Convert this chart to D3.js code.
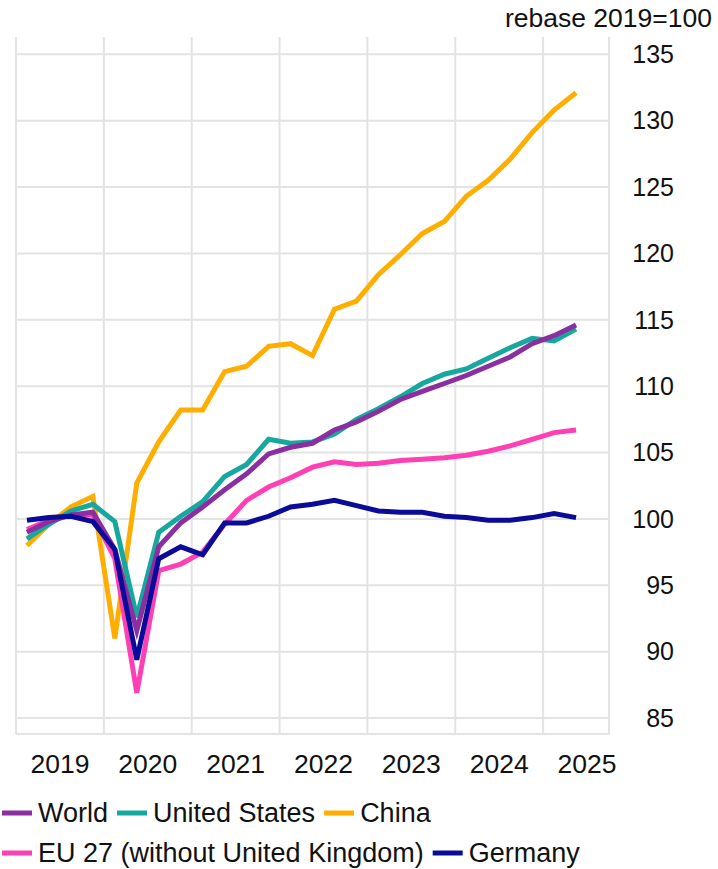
<!DOCTYPE html>
<html>
<head>
<meta charset="utf-8">
<script src="https://cdn.jsdelivr.net/npm/d3@7"></script>
<style>
  body { margin: 0; background: #fff; }
  svg { display: block; font-family: 'Liberation Sans', Arial, sans-serif; }
</style>
</head>
<body>
<div id="chart"></div>
<script>
// quarters 2019Q1 .. 2025Q2
const quarters = ['2019Q1','2019Q2','2019Q3','2019Q4','2020Q1','2020Q2','2020Q3','2020Q4',
  '2021Q1','2021Q2','2021Q3','2021Q4','2022Q1','2022Q2','2022Q3','2022Q4',
  '2023Q1','2023Q2','2023Q3','2023Q4','2024Q1','2024Q2','2024Q3','2024Q4','2025Q1','2025Q2'];

const world   = [99.0, 99.8, 100.3, 100.5, 97.7, 91.6, 97.9, 99.7, 100.9, 102.2, 103.4, 104.9, 105.4, 105.7, 106.7, 107.3,
  108.1, 109.0, 109.6, 110.2, 110.8, 111.5, 112.2, 113.2, 113.8, 114.6];
const unitedStates = [98.5, 99.6, 100.6, 101.1, 99.8, 92.6, 99.0, 100.2, 101.3, 103.2, 104.1, 106.0, 105.7, 105.8, 106.4, 107.5,
  108.3, 109.2, 110.2, 110.9, 111.3, 112.1, 112.9, 113.6, 113.4, 114.3];
const china   = [98.0, 99.6, 100.9, 101.7, 91.0, 102.7, 105.8, 108.2, 108.2, 111.1, 111.5, 113.0, 113.2, 112.3, 115.8, 116.4,
  118.4, 119.9, 121.5, 122.4, 124.3, 125.5, 127.1, 129.1, 130.8, 132.1];
const eu27    = [99.2, 99.9, 100.3, 100.3, 97.0, 86.9, 96.1, 96.6, 97.5, 99.6, 101.4, 102.4, 103.1, 103.9, 104.3, 104.1,
  104.2, 104.4, 104.5, 104.6, 104.8, 105.1, 105.5, 106.0, 106.5, 106.7];
const germany = [99.9, 100.1, 100.2, 99.8, 97.7, 89.4, 97.0, 97.9, 97.3, 99.7, 99.7, 100.2, 100.9, 101.1, 101.4, 101.0,
  100.6, 100.5, 100.5, 100.2, 100.1, 99.9, 99.9, 100.1, 100.4, 100.1];

const yearTicks = [2019, 2020, 2021, 2022, 2023, 2024, 2025];
const yTicks = [85, 90, 95, 100, 105, 110, 115, 120, 125, 130, 135];

const series = [
  {name: 'China', values: china, color: '#ffae00'},
  {name: 'EU 27 (without United Kingdom)', values: eu27, color: '#ff3fb4'},
  {name: 'United States', values: unitedStates, color: '#16a89e'},
  {name: 'World', values: world, color: '#8a2ea0'},
  {name: 'Germany', values: germany, color: '#0b0b99'}
];

const legendRows = [
  ['World', 'United States', 'China'],
  ['EU 27 (without United Kingdom)', 'Germany']
];

const W = 718, H = 869;
const svg = d3.select('#chart').append('svg').attr('width', W).attr('height', H);

const x = d3.scaleLinear().domain([2019, 2025.75]).range([16, 609]);
const y = d3.scaleLinear().domain([83.8, 136.3]).range([734, 37]);

const qTime = q => +q.slice(0, 4) + (+q.slice(5) - 0.5) / 4;

const grid = svg.append('g').attr('stroke', '#e3e3e3').attr('stroke-width', 2);
grid.selectAll('.h').data(yTicks.concat([83.8])).enter().append('line')
  .attr('x1', x(2019)).attr('x2', x(2025.75))
  .attr('y1', d => y(d)).attr('y2', d => y(d));
grid.selectAll('.v').data(yearTicks.concat([2025.75])).enter().append('line')
  .attr('x1', d => x(d)).attr('x2', d => x(d))
  .attr('y1', y(136.3)).attr('y2', y(83.8));

// y labels on the right
svg.append('g').selectAll('text').data(yTicks).enter().append('text')
  .attr('x', 674).attr('y', d => y(d)).attr('dy', '0.35em')
  .attr('text-anchor', 'end').attr('font-size', 25).attr('fill', '#111')
  .text(d => d);

// year labels centered in each year
svg.append('g').selectAll('text').data(yearTicks).enter().append('text')
  .attr('x', d => x(d + 0.5))
  .attr('y', 764).attr('dy', '0.35em')
  .attr('text-anchor', 'middle').attr('font-size', 26.5).attr('fill', '#111')
  .text(d => d);

svg.append('text').attr('x', 712).attr('y', 27).attr('text-anchor', 'end')
  .attr('font-size', 26.5).attr('fill', '#111').text('rebase 2019=100');

const line = d3.line().x((d, i) => x(qTime(quarters[i]))).y(d => y(d));

svg.append('g').selectAll('path').data(series).enter().append('path')
  .attr('d', d => line(d.values))
  .attr('fill', 'none')
  .attr('stroke', d => d.color)
  .attr('stroke-width', 5)
  .attr('stroke-linejoin', 'miter')
  .attr('stroke-miterlimit', 4);

// legend
const colorOf = name => series.find(s => s.name === name).color;
const rowY = [813, 853];
legendRows.forEach((row, r) => {
  let cx = 2;
  row.forEach(name => {
    const g = svg.append('g');
    g.append('line').attr('x1', cx).attr('x2', cx + 30).attr('y1', rowY[r]).attr('y2', rowY[r])
      .attr('stroke', colorOf(name)).attr('stroke-width', 5);
    const t = g.append('text').attr('x', cx + 36).attr('y', rowY[r]).attr('dy', '0.35em')
      .attr('font-size', 27).attr('fill', '#111').text(name);
    cx += 36 + t.node().getComputedTextLength() + 9;
  });
});
</script>
</body>
</html>
